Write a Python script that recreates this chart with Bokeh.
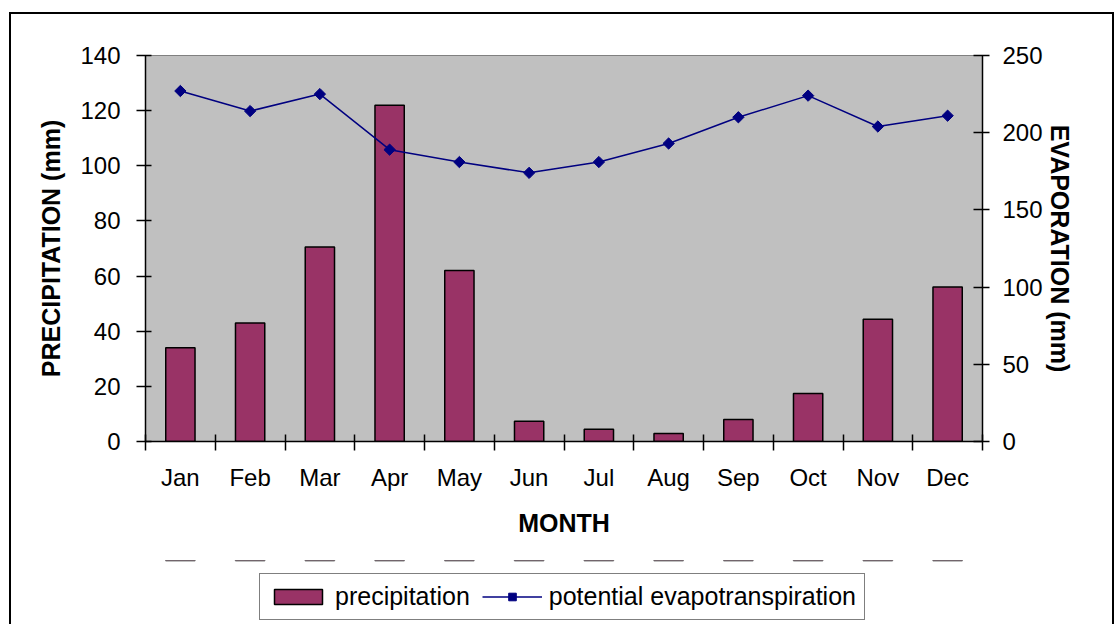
import math
from bokeh.plotting import figure
from bokeh.layouts import column
from bokeh.models import (Range1d, LinearAxis, FixedTicker,
                          Legend, LegendItem, ColumnDataSource)
from bokeh.embed import file_html
from bokeh.resources import INLINE

months = ["Jan", "Feb", "Mar", "Apr", "May", "Jun", "Jul", "Aug", "Sep", "Oct", "Nov", "Dec"]
precipitation = [34, 43, 70.5, 122, 62, 7.3, 4.4, 2.9, 8, 17.4, 44.3, 56]
evapotranspiration = [227, 214, 225, 189, 181, 174, 181, 193, 210, 224, 204, 211]
precip_ticks = [0, 20, 40, 60, 80, 100, 120, 140]
evap_ticks = [0, 50, 100, 150, 200, 250]

FONT = "Liberation Sans"
BAR_FILL = "#993366"
LINE_COL = "#000080"

centers = [i + 0.5 for i in range(len(months))]
edges = list(range(len(months) + 1))
src = ColumnDataSource(dict(x=centers, month=months, precip=precipitation, evap=evapotranspiration))

W, HM, HL = 1101, 546, 64
p = figure(x_range=Range1d(0, len(months)), y_range=Range1d(0, 140),
           width=W, height=HM, output_backend="svg", toolbar_location=None,
           x_axis_location=None, y_axis_location=None,
           min_border_left=134, min_border_right=W - 971,
           min_border_top=41, min_border_bottom=HM - 427)
p.extra_y_ranges = {"evap": Range1d(0, 250)}
p.background_fill_color = "#C0C0C0"
p.border_fill_color = "white"
p.outline_line_color = "#808080"
p.outline_line_width = 1
p.grid.visible = False

p.vbar(x="x", top="precip", width=0.42, source=src,
       fill_color=BAR_FILL, line_color="black", line_width=1.5)
p.line(x="x", y="evap", source=src, y_range_name="evap",
       line_color=LINE_COL, line_width=1.5)
p.scatter(x="x", y="evap", source=src, y_range_name="evap",
          marker="square", angle=math.pi / 4, size=8,
          fill_color=LINE_COL, line_color=LINE_COL)


def style_axis(ax):
    ax.axis_line_color = "black"
    ax.axis_line_width = 1.5
    ax.major_tick_line_color = "black"
    ax.major_tick_line_width = 1.5
    ax.minor_tick_line_color = None
    ax.major_label_text_font = FONT
    ax.major_label_text_font_size = "24px"
    ax.major_label_text_color = "black"
    ax.axis_label_text_font = FONT
    ax.axis_label_text_font_size = "25px"
    ax.axis_label_text_font_style = "bold"
    ax.axis_label_text_color = "black"


yl = LinearAxis(ticker=FixedTicker(ticks=precip_ticks), axis_label="PRECIPITATION (mm)")
style_axis(yl)
yl.major_tick_in = 6
yl.major_tick_out = 9
yl.major_label_standoff = 16
yl.axis_label_standoff = 12
p.add_layout(yl, "left")

yr = LinearAxis(y_range_name="evap", ticker=FixedTicker(ticks=evap_ticks),
                axis_label="EVAPORATION (mm)")
style_axis(yr)
yr.major_tick_in = 9
yr.major_tick_out = 7
yr.major_label_standoff = 13
yr.axis_label_standoff = 0
yr.axis_label_orientation = "vertical"
p.add_layout(yr, "right")

xe = LinearAxis(ticker=FixedTicker(ticks=edges),
                major_label_overrides={e: "" for e in edges})
style_axis(xe)
xe.major_tick_in = 7
xe.major_tick_out = 9
xe.major_label_text_font_size = "2px"
xe.major_label_standoff = 0
p.add_layout(xe, "below")

xc = LinearAxis(ticker=FixedTicker(ticks=centers), axis_label="MONTH",
                major_label_overrides={c: m for c, m in zip(centers, months)})
style_axis(xc)
xc.axis_line_color = None
xc.major_tick_line_color = None
xc.major_tick_in = 0
xc.major_tick_out = 0
xc.major_label_standoff = 13
xc.axis_label_standoff = 15
p.add_layout(xc, "below")

# legend strip below the axes (its series lie far outside its visible range)
q = figure(x_range=Range1d(0, len(months)), y_range=Range1d(-1001, -1000), width=W, height=HL,
           output_backend="svg", toolbar_location=None,
           x_axis_location=None, y_axis_location=None,
           min_border_left=0, min_border_right=0, min_border_top=0, min_border_bottom=0)
q.outline_line_color = None
q.background_fill_color = "white"
q.border_fill_color = "white"
q.grid.visible = False
lb = q.vbar(x="x", top="precip", width=0.42, source=src,
            fill_color=BAR_FILL, line_color="black", line_width=1.5)
ll = q.line(x="x", y="evap", source=src, line_color=LINE_COL, line_width=1.5)
lp = q.scatter(x="x", y="evap", source=src, marker="square", angle=math.pi / 4, size=8,
               fill_color=LINE_COL, line_color=LINE_COL)

legend = Legend(items=[LegendItem(label="precipitation", renderers=[lb]),
                       LegendItem(label="potential evapotranspiration", renderers=[ll, lp])],
                orientation="horizontal", location=(114, 4))
legend.border_line_color = "black"
legend.border_line_width = 1.5
legend.background_fill_color = "white"
legend.padding = 8
legend.spacing = 12
legend.glyph_width = 60
legend.glyph_height = 19
legend.label_standoff = 7
legend.label_text_font = FONT
legend.label_text_font_size = "25px"
legend.label_text_color = "black"
legend.margin = 0
q.add_layout(legend, "center")

layout = column(p, q, spacing=0, margin=(12, 0, 0, 9),
                styles={"border": "2px solid black", "border-bottom": "none"})

open("out.html", "w").write(file_html(layout, INLINE))
